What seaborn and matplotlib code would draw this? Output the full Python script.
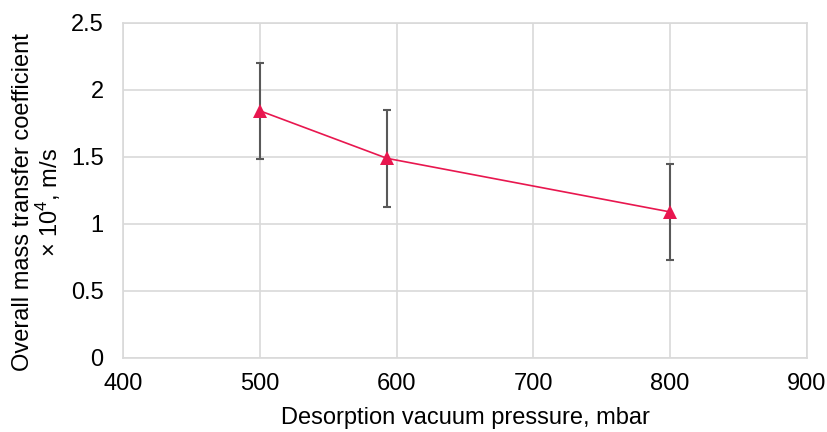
import pandas as pd
import numpy as np
import matplotlib.pyplot as plt
import seaborn as sns

# Данные
pressure = [500, 593, 800]
coefficient = [1.845, 1.49, 1.09]
error = [0.36, 0.36, 0.36]

df = pd.DataFrame({'pressure': pressure, 'coefficient': coefficient, 'error': error})

sns.set_style('whitegrid')
plt.rcParams['font.family'] = ['Liberation Sans', 'DejaVu Sans']
plt.rcParams['mathtext.fontset'] = 'custom'
plt.rcParams['mathtext.rm'] = 'Liberation Sans'

fig = plt.figure(figsize=(8.27, 4.32), dpi=100)
ax = fig.add_axes([0.1487, 0.1713, 0.827, 0.7755])

# Планки погрешностей
ax.errorbar(df['pressure'], df['coefficient'], yerr=df['error'], fmt='none',
            ecolor='#595959', elinewidth=1.5, capsize=3, capthick=1.5, zorder=2)

sns.lineplot(x='pressure', y='coefficient', data=df, color='#E8174F', linewidth=1.2,
             marker='^', markersize=10, markeredgewidth=0, ax=ax, zorder=3)

ax.set_xlim(400, 900)
ax.set_ylim(0, 2.5)
ax.set_xticks([400, 500, 600, 700, 800, 900])
ax.set_yticks([0, 0.5, 1, 1.5, 2, 2.5])
ax.set_yticklabels(['0', '0.5', '1', '1.5', '2', '2.5'])

ax.grid(True, color='#D9D9D9', linewidth=1.2)
for side in ['left', 'right', 'top', 'bottom']:
    ax.spines[side].set_color('#D9D9D9')
    ax.spines[side].set_linewidth(1.2)

ax.tick_params(axis='both', labelsize=17, labelcolor='#000000', length=0)
ax.tick_params(axis='y', pad=14)
ax.tick_params(axis='x', pad=11)

ax.set_xlabel('Desorption vacuum pressure, mbar', fontsize=17, va='top', color='#000000')
ax.xaxis.set_label_coords(0.5, -0.146)
ax.set_ylabel('Overall mass transfer coefficient\n× 10$^{4}$, m/s', fontsize=17,
              linespacing=1.0, color='#000000')
ax.yaxis.set_label_coords(-0.088, 0.464)

plt.savefig('out.png', dpi=100)
